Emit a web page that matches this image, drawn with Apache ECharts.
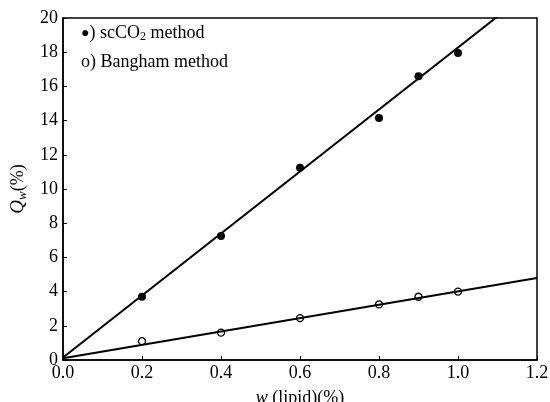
<!DOCTYPE html>
<html>
<head>
<meta charset="utf-8">
<script src="https://cdn.jsdelivr.net/npm/echarts@6/dist/echarts.min.js"></script>
<style>
  html, body { margin: 0; padding: 0; background: #fff; }
  #chart { width: 550px; height: 402px; }
</style>
</head>
<body>
<div id="chart"></div>
<script>
// measured points
let lipid = [0.2, 0.4, 0.6, 0.8, 0.9, 1.0]
let scco2 = [3.7, 7.25, 11.25, 14.15, 16.6, 17.95]
let bangham = [1.1, 1.6, 2.45, 3.25, 3.7, 4.0]
// fitted lines, end points
let fitX = [0, 1.2]
let scco2Fit = [0.15, 21.9]
let banghamFit = [0.1, 4.8]

let font = '"Liberation Serif", "DejaVu Serif", serif'

let chart = echarts.init(document.getElementById('chart'))

let pairs = (xs, ys) => xs.map((x, i) => [x, ys[i]])

let option = {
    animation: false,
    grid: {
        left: 63, right: 13, top: 18, bottom: 42,
        containLabel: false,
        outerBoundsMode: 'none',
        show: true,
        borderColor: '#000',
        borderWidth: 1.5
    },
    xAxis: {
        type: 'value',
        min: 0, max: 1.2, interval: 0.2,
        axisLine: {lineStyle: {color: '#000', width: 1.5}},
        axisTick: {inside: true, length: 4, lineStyle: {color: '#000'}},
        splitLine: {show: false},
        axisLabel: {
            color: '#000', fontFamily: font, fontSize: 18, margin: 4,
            formatter: v => v.toFixed(1)
        },
        name: '{i|w} (lipid)(%)',
        nameLocation: 'middle',
        nameGap: 29,
        nameTextStyle: {
            color: '#000', fontFamily: font, fontSize: 18,
            rich: {i: {fontStyle: 'italic', fontFamily: font, fontSize: 18, color: '#000'}}
        }
    },
    yAxis: {
        type: 'value',
        min: 0, max: 20, interval: 2,
        axisLine: {lineStyle: {color: '#000', width: 1.5}},
        axisTick: {inside: true, length: 4, lineStyle: {color: '#000'}},
        splitLine: {show: false},
        axisLabel: {color: '#000', fontFamily: font, fontSize: 18, margin: 5},
        name: '{i|Q}{s|w}{n|(%)}',
        nameLocation: 'middle',
        nameGap: 32,
        nameTextStyle: {
            color: '#000', fontFamily: font, fontSize: 18,
            rich: {
                i: {fontStyle: 'italic', fontFamily: font, fontSize: 19, color: '#000'},
                s: {fontStyle: 'italic', fontFamily: font, fontSize: 13, color: '#000', verticalAlign: 'bottom', padding: [9, 0, 0, 0]},
                n: {fontFamily: font, fontSize: 18, color: '#000'}
            }
        }
    },
    graphic: [
        {
            type: 'text', left: 81, top: 24,
            style: {
                text: '{m|●}) scCO{s|2} method',
                font: '18px ' + font,
                fill: '#000',
                rich: {
                    m: {fontSize: 14, fontFamily: font, fill: '#000'},
                    s: {fontSize: 12, fontFamily: font, fill: '#000', verticalAlign: 'bottom', padding: [8, 0, 0, 0]}
                }
            }
        },
        {
            type: 'text', left: 81, top: 53,
            style: {text: 'o) Bangham method', font: '18px ' + font, fill: '#000'}
        }
    ],
    series: [
        {
            name: 'scCO2 fit', type: 'line', data: pairs(fitX, scco2Fit),
            symbol: 'none', clip: true,
            lineStyle: {color: '#000', width: 2}
        },
        {
            name: 'Bangham fit', type: 'line', data: pairs(fitX, banghamFit),
            symbol: 'none', clip: true,
            lineStyle: {color: '#000', width: 2}
        },
        {
            name: 'scCO2 method', type: 'scatter', data: pairs(lipid, scco2),
            symbol: 'circle', symbolSize: 8,
            itemStyle: {color: '#000', opacity: 1}
        },
        {
            name: 'Bangham method', type: 'scatter', data: pairs(lipid, bangham),
            symbol: 'circle', symbolSize: 7,
            itemStyle: {color: '#fff', borderColor: '#000', borderWidth: 1.3, opacity: 1}
        }
    ]
}

chart.setOption(option)
</script>
</body>
</html>
